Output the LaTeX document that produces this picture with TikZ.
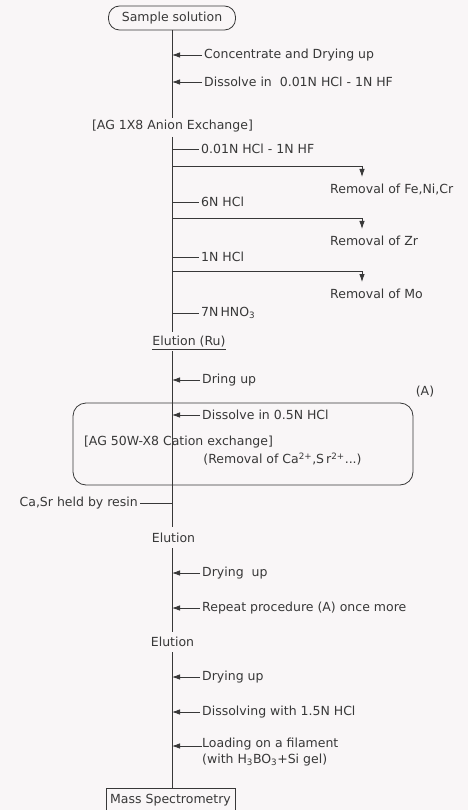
\documentclass[tikz,border=0pt]{standalone}
\usepackage{fontspec}
\setmainfont{DejaVu Sans}
\usetikzlibrary{arrows.meta}
\definecolor{ink}{HTML}{383838}
\definecolor{paper}{HTML}{F9F6F7}
\begin{document}
\begin{tikzpicture}[x=1pt,y=-1pt,
  font=\fontsize{12.5}{14.5}\selectfont,
  every node/.style={text=ink, inner sep=2pt},
  ln/.style={draw=ink, line width=0.8pt},
  arr/.style={ln, -{Latex[length=8pt,width=5.5pt]}},
  lbl/.style={anchor=west},
  rem/.style={anchor=west},
  ]
\fill[paper] (0,0) rectangle (468,810);
\useasboundingbox (0,0) rectangle (468,810);

% top
\node[draw=ink, line width=0.8pt, rounded corners=11pt, minimum width=127pt, minimum height=24pt, inner sep=0pt] (sample) at (172,18) {Sample solution};
\node (ag1) at (172.5,126) {[AG 1X8 Anion Exchange]};
\draw[ln] (sample.south) -- (ag1.north -| sample.south);

\coordinate (m1) at (172,55);
\node[lbl] (t1) at (202,55) {Concentrate and Drying up};
\draw[arr] (t1.west) -- (m1);
\coordinate (m2) at (172,82);
\node[lbl] (t2) at (202,82) {Dissolve in\ \ 0.01N HCl - 1N HF};
\draw[arr] (t2.west) -- (m2);

% anion exchange column
\node (elu1) at (189,342) {Elution (Ru)};
\draw[ln] ([xshift=2pt]elu1.south west) -- ([xshift=-2pt]elu1.south east);
\coordinate (top2) at (172,137);
\coordinate (bot2) at (172,332);
\draw[ln] (top2) -- (bot2);

\coordinate (s1) at (172,149);
\node[lbl] (u1) at (199,149) {0.01N HCl - 1N HF};
\draw[ln] (s1) -- (u1.west);
\coordinate (s2) at (172,202);
\node[lbl] (u2) at (199,202) {6N HCl};
\draw[ln] (s2) -- (u2.west);
\coordinate (s3) at (172,257);
\node[lbl] (u3) at (199,257) {1N HCl};
\draw[ln] (s3) -- (u3.west);
\coordinate (s4) at (172,313);
\node[lbl] (u4) at (199,313) {7N\,HNO\textsubscript{3}};
\draw[ln] (s4) -- (u4.west);

\coordinate (b1) at (172,166);
\coordinate (b1e) at (362,177);
\node[rem] (r1) at (328,189) {Removal of Fe,Ni,Cr};
\draw[arr] (b1) -| (b1e);
\coordinate (b2) at (172,218);
\coordinate (b2e) at (362,229);
\node[rem] (r2) at (328,241) {Removal of Zr};
\draw[arr] (b2) -| (b2e);
\coordinate (b3) at (172,271);
\coordinate (b3e) at (362,282);
\node[rem] (r3) at (328,294) {Removal of Mo};
\draw[arr] (b3) -| (b3e);

% cation exchange part
\node[draw=ink, line width=0.8pt, rounded corners=13pt, minimum width=340pt, minimum height=82pt] (boxA) at (243,444) {};
\node (A) at (425,392) {(A)};
\node (elu2) at (173.5,538) {Elution};
\coordinate (top3) at (172,351);
\coordinate (bot3) at (172,527);
\draw[ln] (top3) -- (bot3);

\coordinate (m3) at (172,380);
\node[lbl] (t3) at (200,380) {Dring up};
\draw[arr] (t3.west) -- (m3);
\coordinate (m4) at (172,415);
\node[lbl] (t4) at (200,415) {Dissolve in 0.5N HCl};
\draw[arr] (t4.west) -- (m4);
\node (cat) at (178.5,442) {[AG 50W-X8 Cation exchange]};
\node (remca) at (282.5,459) {(Removal of Ca\textsuperscript{2+},S\,r\textsuperscript{2+}...)};

\coordinate (m5) at (172,503);
\node[anchor=east] (held) at (140,503) {Ca,Sr held by resin};
\draw[ln] (held.east) -- (m5);

% after
\node (elu3) at (172.5,642) {Elution};
\coordinate (top4) at (172,548);
\coordinate (bot4) at (172,632);
\draw[ln] (top4) -- (bot4);
\coordinate (m6) at (172,573);
\node[lbl] (t6) at (200,573) {Drying\ \ up};
\draw[arr] (t6.west) -- (m6);
\coordinate (m7) at (172,608);
\node[lbl] (t7) at (200,608) {Repeat procedure (A) once more};
\draw[arr] (t7.west) -- (m7);

\node[draw=ink, line width=0.8pt, minimum width=129pt, minimum height=24pt, inner sep=0pt] (ms) at (170.5,800) {Mass Spectrometry};
\coordinate (top5) at (172,652);
\draw[ln] (top5) -- (ms.north -| top5);
\coordinate (m8) at (172,677);
\node[lbl] (t8) at (200,677) {Drying up};
\draw[arr] (t8.west) -- (m8);
\coordinate (m9) at (172,712);
\node[lbl] (t9) at (200,712) {Dissolving with 1.5N HCl};
\draw[arr] (t9.west) -- (m9);
\coordinate (m10) at (172,746);
\node[lbl, anchor=north west, align=left, inner sep=0pt] (t10) at (202,738) {Loading on a filament\\[1pt](with H\textsubscript{3}BO\textsubscript{3}+Si gel)};
\draw[arr] (t10.west |- m10) -- (m10);
\end{tikzpicture}
\end{document}
